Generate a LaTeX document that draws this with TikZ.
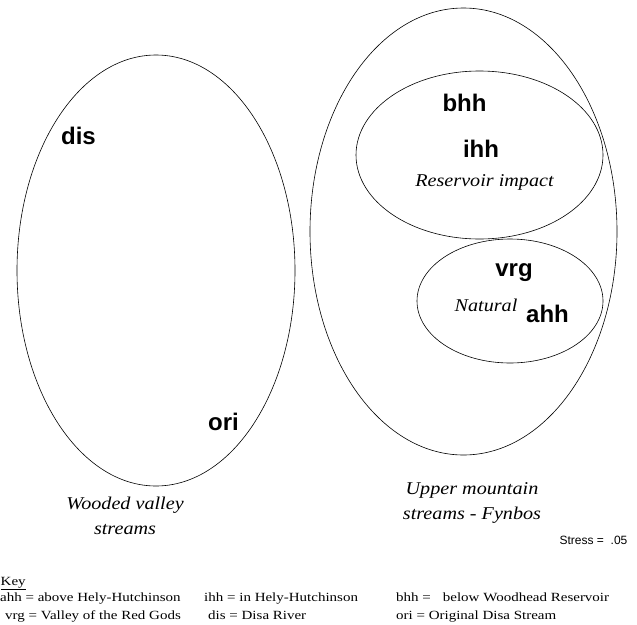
\documentclass[tikz,border=0pt]{standalone}
\usepackage{fontspec}
\setmainfont{Liberation Serif}
\newfontfamily\keyfont[FakeStretch=1.2]{Liberation Serif}
\newfontfamily\grpfont[FakeStretch=1.12]{Liberation Serif}
\newfontfamily\sitefont{Liberation Sans}

\tikzset{
	site/.style={inner sep=0pt, font=\sitefont\fontsize{24}{28}\selectfont\bfseries},
	grp/.style={inner sep=0pt, align=center, font=\grpfont\fontsize{18}{25}\selectfont\itshape},
	keyline/.style={inner sep=0pt, anchor=base west, font=\keyfont\fontsize{12.5}{15}\selectfont},
	hull/.style={line width=0.6pt},
}

\begin{document}
\begin{tikzpicture}[x=1pt, y=-1pt]
			%%%%% START %%%%%
			\useasboundingbox (0, 0) rectangle (637, 624);
			
			\draw[hull] (156, 270.5) ellipse [x radius=139pt, y radius=215.5pt];
			\draw[hull] (463.5, 231.5) ellipse [x radius=153.5pt, y radius=223.5pt];
			\draw[hull] (479.5, 155) ellipse [x radius=123.5pt, y radius=84pt];
			\draw[hull] (510, 301) ellipse [x radius=93pt, y radius=62pt];
			
			\node[site] (dis) at (78.5, 135.5) {dis};
			\node[site] (ori) at (223.5, 421.5) {ori};
			\node[site] (bhh) at (464.5, 103) {bhh};
			\node[site] (ihh) at (481, 148.5) {ihh};
			\node[site] (vrg) at (514, 273) {vrg};
			\node[site] (ahh) at (547.5, 314) {ahh};
			
			\node[grp] (resv) at (484.5, 182.5) {Reservoir impact};
			\node[grp] (natural) at (486, 305.5) {Natural};
			\node[grp] (wooded) at (125, 516) {Wooded valley\\streams};
			\node[grp] (upper) at (472, 503) {Upper mountain\\streams - Fynbos};
			
			\node[inner sep=0pt, font=\sitefont\fontsize{12}{14}\selectfont] (stress) at (593.5, 540) {Stress =\ \ .05};
			
			% key
			\node[keyline] (key) at (0.5, 585) {\underline{Key}};
			\node[keyline] (kahh) at (0, 601) {ahh = above Hely-Hutchinson};
			\node[keyline] (kihh) at (204, 601) {ihh = in Hely-Hutchinson};
			\node[keyline] (kbhh) at (396, 601) {bhh =\hspace{12pt}below Woodhead Reservoir};
			\node[keyline] (kvrg) at (5, 619.5) {vrg = Valley of the Red Gods};
			\node[keyline] (kdis) at (208, 619.5) {dis = Disa River};
			\node[keyline] (kori) at (396, 619.5) {ori = Original Disa Stream};
			%%%%% END %%%%%
\end{tikzpicture}
\end{document}
